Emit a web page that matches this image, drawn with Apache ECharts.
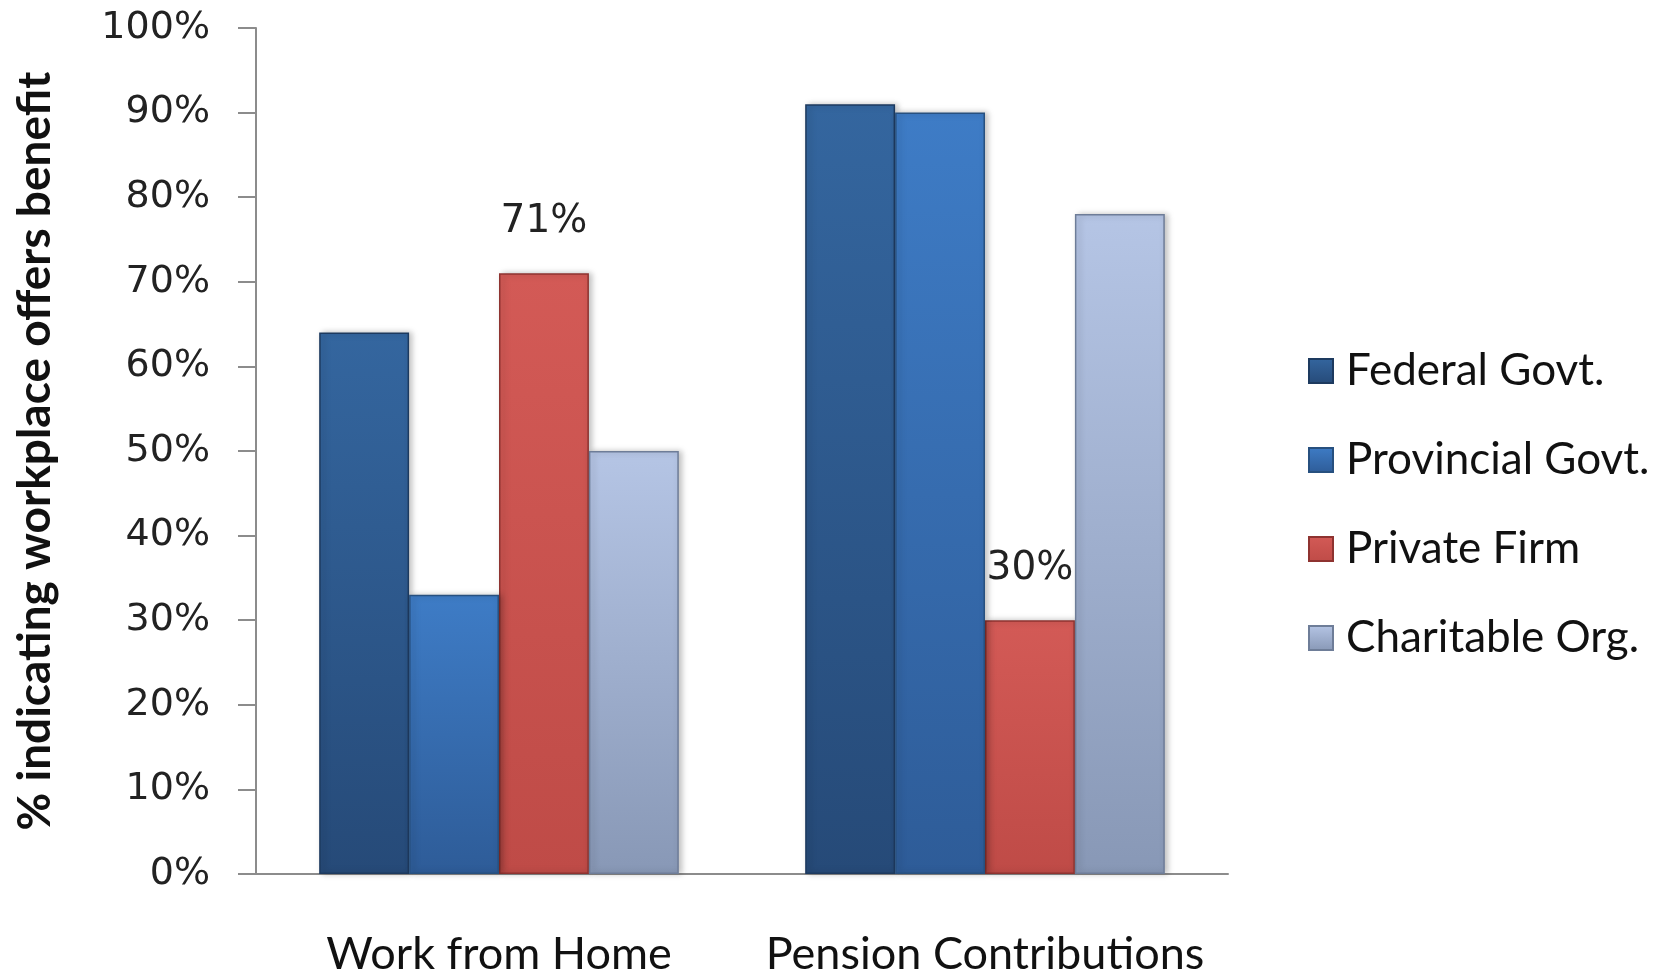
<!DOCTYPE html>
<html lang="en">
<head>
    <meta charset="UTF-8">
    <title>Workplace benefits</title>
    <style>
        * { box-sizing: border-box; margin: 0; padding: 0; }
        body { background: #fff; }
        #chart { width: 1676px; height: 973px; }
    </style>
    <script src="https://cdn.jsdelivr.net/npm/echarts@6/dist/echarts.min.js"></script>
</head>
<body>
    <div id="chart"></div>

    <script>
        // data (percent)
        const categories = ['Work from Home', 'Pension Contributions'];
        const federal = [64, 91];
        const provincial = [33, 90];
        const privateFirm = [71, 30];
        const charitable = [50, 78];
        const yTicks = [0, 10, 20, 30, 40, 50, 60, 70, 80, 90, 100];

        // vertical gradient for the bevelled bars
        function grad(top, bottom) {
            return new echarts.graphic.LinearGradient(0, 0, 0, 1, [
                { offset: 0, color: top },
                { offset: 1, color: bottom }
            ]);
        }

        function barSeries(name, data, top, bottom, border, extra) {
            return Object.assign({
                name: name,
                type: 'bar',
                data: data,
                barGap: '0%',
                barCategoryGap: '26%',
                itemStyle: {
                    color: grad(top, bottom),
                    borderColor: border,
                    borderWidth: 1.5,
                    shadowColor: 'rgba(0,0,0,0.25)',
                    shadowBlur: 6,
                    shadowOffsetX: 3
                },
                z: 3
            }, extra || {});
        }

        const chart = echarts.init(document.getElementById('chart'));
        chart.setOption({
            animation: false,
            grid: { left: 256, right: 448, top: 28, bottom: 99, outerBoundsMode: 'none' },
            legend: {
                orient: 'vertical',
                left: 1303,
                top: 344,
                itemWidth: 24,
                itemHeight: 24,
                itemGap: 45,
                icon: 'rect',
                textStyle: { fontFamily: 'Lato', fontSize: 44, color: '#111', padding: [0, 0, 0, 8] }
            },
            xAxis: {
                type: 'category',
                data: categories,
                axisLine: { lineStyle: { color: '#8c8c8c', width: 2 } },
                axisTick: { length: 16, lineStyle: { color: '#8c8c8c', width: 2 } },
                axisLabel: { interval: 0, fontFamily: 'Lato', fontSize: 45, color: '#111', margin: 58 }
            },
            yAxis: {
                type: 'value',
                min: yTicks[0],
                max: yTicks[yTicks.length - 1],
                interval: 10,
                splitLine: { show: false },
                axisLine: { show: true, lineStyle: { color: '#8c8c8c', width: 2 } },
                axisTick: { show: true, length: 18, lineStyle: { color: '#8c8c8c', width: 2 } },
                axisLabel: {
                    formatter: '{value}%',
                    fontFamily: 'DejaVu Sans',
                    fontSize: 38,
                    color: '#222',
                    margin: 46
                },
                name: '% indicating workplace offers benefit',
                nameLocation: 'middle',
                nameRotate: 90,
                nameGap: 198,
                nameTextStyle: { fontFamily: 'Lato', fontWeight: 'bold', fontSize: 46, color: '#111' }
            },
            series: [
                barSeries('Federal Govt.', federal, '#34669f', '#264a78', '#1d3a5f'),
                barSeries('Provincial Govt.', provincial, '#3e7cc6', '#2e5c98', '#27507f'),
                barSeries('Private Firm', privateFirm, '#d35a56', '#bf4b47', '#8e3330', {
                    z: 2,
                    label: {
                        show: true,
                        position: 'top',
                        distance: 32,
                        formatter: '{c}%',
                        fontFamily: 'DejaVu Sans',
                        fontSize: 39,
                        color: '#222'
                    }
                }),
                barSeries('Charitable Org.', charitable, '#b5c5e5', '#8898b6', '#6e7d98')
            ]
        });
    </script>
</body>
</html>
